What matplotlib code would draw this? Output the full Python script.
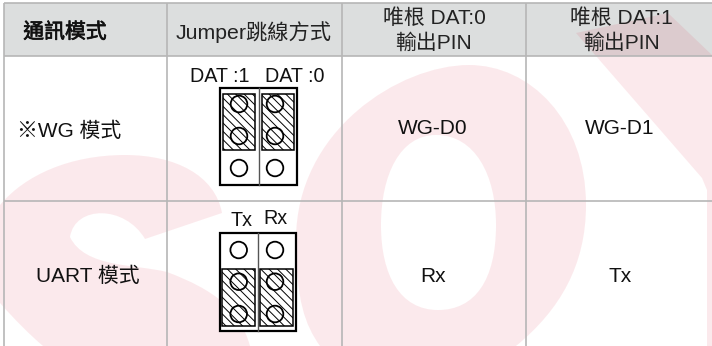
#!/usr/bin/env python3
"""
Jumper setting table: WG / UART mode
"""

import matplotlib
matplotlib.use('Agg')
import matplotlib.pyplot as plt
import matplotlib.patheffects as pe
from matplotlib.patches import Rectangle, Circle, PathPatch
from matplotlib.path import Path

plt.rcParams['font.family'] = ['Liberation Sans', 'Noto Sans CJK TC', 'DejaVu Sans']
plt.rcParams['hatch.linewidth'] = 0.7

headers = ['通訊模式', 'Jumper跳線方式', '唯根 DAT:0\n輸出PIN', '唯根 DAT:1\n輸出PIN']
modes = ['※WG 模式', 'UART 模式']
dat0_pins = ['WG-D0', 'Rx']
dat1_pins = ['WG-D1', 'Tx']
jumper_labels = [['DAT :1', 'DAT :0'], ['Tx', 'Rx']]

W, H = 712, 346
GRID = '#b6b6b6'
HEAD = '#dcdede'
PINK = '#dc1432'
PINK_ALPHA = 0.09
INK = '#111111'

col_x = [4, 166.5, 341.5, 525.5]
row_y = [3, 56, 200.5]

fig = plt.figure(figsize=(W / 100, H / 100), dpi=100)
ax = fig.add_axes([0, 0, 1, 1])
ax.set_xlim(0, W)
ax.set_ylim(H, 0)
ax.axis('off')

# header band
ax.add_patch(Rectangle((col_x[0], row_y[0]), W - col_x[0], row_y[1] - row_y[0],
                       fc=HEAD, ec='none', zorder=1))


def wm(verts, codes=None):
    p = Path(verts, codes) if codes else Path(verts)
    ax.add_patch(PathPatch(p, fc=PINK, ec='none', alpha=PINK_ALPHA, zorder=2))


M, C, L = Path.MOVETO, Path.CURVE4, Path.LINETO

# watermark S
s_verts = [(222, 213),
           (215, 175), (175, 155), (125, 155),
           (70, 155), (25, 175), (0, 205),
           (0, 303),
           (15, 320), (30, 335), (43, 346),
           (250, 346),
           (240, 310), (215, 290), (167, 272),
           (135, 264), (85, 268), (70, 237),
           (75, 205), (125, 205), (145, 239),
           (222, 213)]
s_codes = [M, C, C, C, C, C, C, L, C, C, C, L, C, C, C, C, C, C, C, C, C, L]
wm(s_verts, s_codes)

# watermark O, inner loop runs the other way to leave the hole
o_verts = [(586, 205),
           (586, 120), (530, 65), (469, 65),
           (400, 65), (296, 130), (296, 240),
           (296, 300), (305, 325), (320, 346),
           (516, 346),
           (560, 310), (586, 265), (586, 205),
           (436, 135),
           (475, 135), (496, 175), (496, 225),
           (496, 280), (475, 310), (438, 310),
           (400, 310), (381, 275), (381, 225),
           (381, 175), (400, 135), (436, 135)]
o_codes = [M, C, C, C, C, C, C, C, C, C, L, C, C, C,
           M, C, C, C, C, C, C, C, C, C, C, C, C]
wm(o_verts, o_codes)

# watermark Y arm
wm([(576, 33), (668, 13), (712, 55), (712, 346), (707, 346), (707, 190), (702, 178)])

# grid
for x in col_x:
    ax.plot([x, x], [row_y[0], H], color=GRID, lw=1.2, zorder=3, solid_capstyle='butt')
for y in row_y:
    ax.plot([col_x[0], W], [y, y], color=GRID, lw=1.2, zorder=3, solid_capstyle='butt')


def jumper(box, divider, hatch_y, hatch_x, circ_x, circ_y):
    ax.add_patch(Rectangle((box[0], box[1]), box[2] - box[0], box[3] - box[1],
                           fc='white', ec='black', lw=1.6, zorder=4))
    ax.plot([divider, divider], [box[1], box[3]], color='#555555', lw=1.0, zorder=5)
    for x0, x1 in hatch_x:
        ax.add_patch(Rectangle((x0, hatch_y[0]), x1 - x0, hatch_y[1] - hatch_y[0],
                               fc='white', ec='black', lw=1.1, hatch='\\\\\\\\', zorder=5))
    for cx in circ_x:
        for cy in circ_y:
            ax.add_patch(Circle((cx, cy), 8.3, fc='none', ec='black', lw=1.3, zorder=6))


jumper((220, 87.5, 296.5, 185), 258.7, (93.5, 150), [(222.5, 255), (261.7, 293.7)],
       (239, 275), (104, 136, 168))
jumper((220, 233, 296, 330.7), 258, (269, 325.7), [(222.3, 255), (260.3, 293.3)],
       (238.7, 275), (250, 281.7, 314))

# text
first = ax.text(65, 32, headers[0], ha='center', va='center', fontsize=15, color=INK, zorder=7)
first.set_path_effects([pe.withStroke(linewidth=0.5, foreground=INK)])
ax.text(254, 32, headers[1], ha='center', va='center', fontsize=15.3, color='#222222', zorder=7, weight='light')
for x, head in zip((434, 621), headers[2:]):
    top, bottom = head.split('\n')
    ax.text(x, 18, top, ha='center', va='center', fontsize=15, color='#222222', zorder=7, weight='light')
    ax.text(x, 43, bottom, ha='center', va='center', fontsize=15, color='#222222', zorder=7, weight='light')

ax.text(69, 131, modes[0], ha='center', va='center', fontsize=15, color=INK, zorder=7)
ax.text(88, 276, modes[1], ha='center', va='center', fontsize=15, color=INK, zorder=7)
for y, pin0, pin1 in zip((129, 276), dat0_pins, dat1_pins):
    ax.text(433, y, pin0, ha='center', va='center', fontsize=15, color=INK, zorder=7)
    ax.text(620, y, pin1, ha='center', va='center', fontsize=15, color=INK, zorder=7)

ax.text(220, 77, jumper_labels[0][0], ha='center', va='center', fontsize=14.2, color=INK, zorder=7)
ax.text(295, 77, jumper_labels[0][1], ha='center', va='center', fontsize=14.2, color=INK, zorder=7)
ax.text(241.5, 220, jumper_labels[1][0], ha='center', va='center', fontsize=14.2, color=INK, zorder=7)
ax.text(275, 219, jumper_labels[1][1], ha='center', va='center', fontsize=14.2, color=INK, zorder=7)

fig.savefig('out.png', dpi=100)
